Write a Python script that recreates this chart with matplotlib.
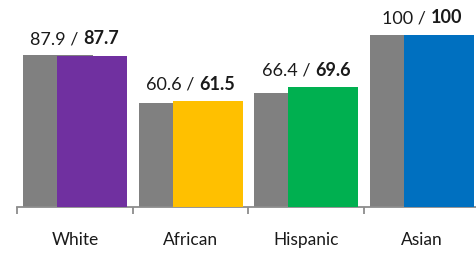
import matplotlib
matplotlib.use("Agg")
import matplotlib.pyplot as plt
from matplotlib.offsetbox import TextArea, HPacker, AnnotationBbox

groups = ["White", "African", "Hispanic", "Asian"]
before = [87.9, 60.6, 66.4, 100]
after = [87.7, 61.5, 69.6, 100]
colors = ["#7030A0", "#FFC000", "#00B050", "#0070C0"]

plt.rcParams["font.family"] = ["Lato", "DejaVu Sans"]

fig = plt.figure(figsize=(4.77, 2.54), dpi=100)
# axis spans x 17..480 px, y 0..207 px
ax = fig.add_axes([17 / 477, 1 - 207 / 254, 463 / 477, 207 / 254])

x = list(range(len(groups)))
w = 0.605
off = 0.147
ax.bar([i - off for i in x], before, width=w, color="#808080", zorder=2)
ax.bar([i + off for i in x], after, width=w, color=colors, zorder=3)

ax.set_xlim(-0.5, 3.5)
ax.set_ylim(0, 120.1)

# "old / new" labels, second number in bold
for i in x:
    t1 = TextArea("%g / " % before[i], textprops=dict(fontsize=13, color="#1a1a1a"))
    t2 = TextArea("%g" % after[i], textprops=dict(fontsize=13, color="#1a1a1a", fontweight="bold"))
    box = HPacker(children=[t1, t2], pad=0, sep=0, align="baseline")
    ab = AnnotationBbox(box, (i, max(before[i], after[i])), xybox=(0, 6),
                        xycoords="data", boxcoords="offset points",
                        box_alignment=(0.5, 0), frameon=False)
    ax.add_artist(ab)

for s in ["top", "right", "left"]:
    ax.spines[s].set_visible(False)
ax.spines["bottom"].set_color("#8c8c8c")
ax.spines["bottom"].set_linewidth(1.3)
ax.set_yticks([])

ax.set_xticks(x)
ax.set_xticklabels(groups, fontsize=12.5, color="#1a1a1a")
ax.tick_params(axis="x", which="major", length=0, pad=18)
ax.set_xticks([-0.5, 0.5, 1.5, 2.5, 3.5], minor=True)
ax.tick_params(axis="x", which="minor", length=5, width=1.3, color="#8c8c8c")

fig.savefig("out.png", dpi=100)
